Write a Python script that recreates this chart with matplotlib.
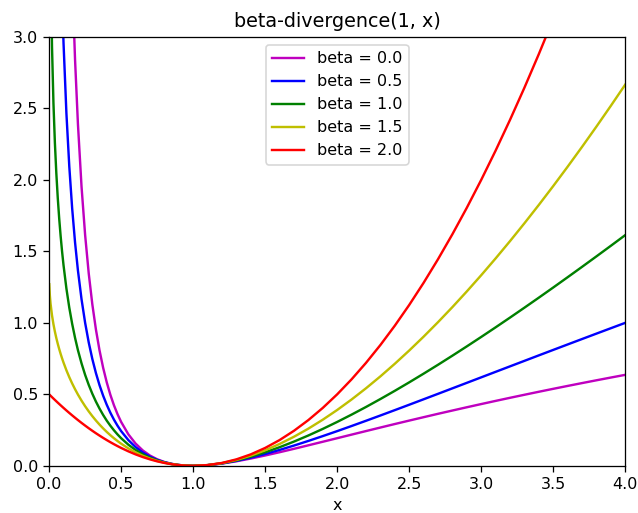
import matplotlib
matplotlib.use('Agg')
import matplotlib.pyplot as plt

# sample points of d_beta(1, x)
x = [0.001, 0.005, 0.01, 0.02, 0.03, 0.04, 0.05, 0.06, 0.07, 0.08, 0.09, 0.1,
     0.12, 0.14, 0.16, 0.18, 0.2, 0.225, 0.25, 0.275, 0.3, 0.325, 0.35, 0.375,
     0.4, 0.425, 0.45, 0.475, 0.5, 0.55, 0.6, 0.65, 0.7, 0.75, 0.8, 0.85, 0.9, 0.95,
     1.0, 1.1, 1.2, 1.3, 1.4, 1.5, 1.6, 1.7, 1.8, 1.9,
     2.0, 2.1, 2.2, 2.3, 2.4, 2.5, 2.6, 2.7, 2.8, 2.9,
     3.0, 3.1, 3.2, 3.3, 3.4, 3.5, 3.6, 3.7, 3.8, 3.9, 4.0]

div_b00 = [992.09, 193.70, 94.39, 45.09, 28.83, 20.78, 16.00, 12.85, 10.63, 8.97, 7.70, 6.70,
           5.21, 4.18, 3.42, 2.84, 2.391, 1.9527, 1.614, 1.3454, 1.129, 0.9530, 0.807, 0.6859,
           0.584, 0.4972, 0.4237, 0.3609, 0.3069, 0.2204, 0.1559, 0.1077, 0.0719, 0.0456, 0.0269, 0.0140, 0.0057, 0.0013,
           0.0, 0.0044, 0.0156, 0.0316, 0.0508, 0.0722, 0.0950, 0.1188, 0.1434, 0.1682,
           0.1931, 0.2181, 0.2430, 0.2677, 0.2922, 0.3163, 0.3401, 0.3637, 0.3867, 0.4095,
           0.4319, 0.4540, 0.4757, 0.4969, 0.5179, 0.5385, 0.5587, 0.5786, 0.5982, 0.6174, 0.6363]

div_b05 = [59.31, 24.43, 16.2, 10.42, 7.89, 6.4, 5.39, 4.65, 4.09, 3.64, 3.27, 2.957,
           2.466, 2.094, 1.8, 1.5625, 1.3666, 1.1651, 1.0, 0.8627, 0.7469, 0.6484, 0.5638, 0.4907,
           0.4272, 0.3717, 0.3230, 0.2803, 0.2426, 0.1800, 0.1312, 0.0932, 0.0638, 0.0415, 0.0250, 0.0132, 0.0056, 0.0014,
           0.0, 0.0045, 0.0166, 0.0345, 0.0567, 0.0825, 0.1110, 0.1416, 0.1740, 0.2078,
           0.2426, 0.2784, 0.3149, 0.3519, 0.3894, 0.4272, 0.4653, 0.5035, 0.5419, 0.5803,
           0.6188, 0.6573, 0.6957, 0.7341, 0.7725, 0.8107, 0.8488, 0.8868, 0.9247, 0.9624, 1.0]

div_b10 = [5.909, 4.303, 3.615, 2.932, 2.537, 2.259, 2.046, 1.873, 1.729, 1.606, 1.498, 1.403,
           1.240, 1.106, 0.993, 0.895, 0.809, 0.7167, 0.636, 0.5660, 0.504, 0.4489, 0.400, 0.3558,
           0.316, 0.2807, 0.2485, 0.2194, 0.1931, 0.1478, 0.1108, 0.0808, 0.0567, 0.0377, 0.0231, 0.0125, 0.0054, 0.0013,
           0.0, 0.0047, 0.0177, 0.0376, 0.0635, 0.0945, 0.1300, 0.1694, 0.2122, 0.2581,
           0.3069, 0.3581, 0.4115, 0.4671, 0.5245, 0.5837, 0.6445, 0.7067, 0.7704, 0.8353,
           0.9014, 0.9686, 1.0368, 1.1061, 1.1762, 1.2472, 1.3191, 1.3917, 1.4650, 1.5390, 1.6137]

div_b15 = [1.2701, 1.1921, 1.1340, 1.0524, 0.9904, 0.9387, 0.8936, 0.8532, 0.8165, 0.7827, 0.7513, 0.7220,
           0.6682, 0.6199, 0.5760, 0.5357, 0.4985, 0.4558, 0.4167, 0.3807, 0.3474, 0.3167, 0.2882, 0.2617,
           0.2371, 0.2142, 0.1929, 0.1732, 0.1548, 0.1220, 0.0940, 0.0702, 0.0505, 0.0343, 0.0215, 0.0119, 0.0052, 0.0013,
           0.0, 0.0048, 0.0188, 0.0411, 0.0712, 0.1086, 0.1527, 0.2033, 0.2600, 0.3225,
           0.3905, 0.4639, 0.5423, 0.6256, 0.7137, 0.8063, 0.9033, 1.0047, 1.1102, 1.2198,
           1.3333, 1.4507, 1.5718, 1.6966, 1.8250, 1.9569, 2.0923, 2.2310, 2.3730, 2.5182, 2.6667]

div_b20 = [0.4990, 0.4950, 0.4901, 0.4802, 0.4705, 0.4608, 0.4513, 0.4418, 0.4325, 0.4232, 0.4141, 0.405,
           0.3872, 0.3698, 0.3528, 0.3362, 0.32, 0.30031, 0.28125, 0.26281, 0.245, 0.22781, 0.21125, 0.19531,
           0.18, 0.16531, 0.15125, 0.13781, 0.125, 0.10125, 0.08, 0.06125, 0.045, 0.03125, 0.02, 0.01125, 0.005, 0.00125,
           0.0, 0.005, 0.02, 0.045, 0.08, 0.125, 0.18, 0.245, 0.32, 0.405,
           0.5, 0.605, 0.72, 0.845, 0.98, 1.125, 1.28, 1.445, 1.62, 1.805,
           2.0, 2.205, 2.42, 2.645, 2.88, 3.125, 3.38, 3.645, 3.92, 4.205, 4.5]

betas = [0.0, 0.5, 1.0, 1.5, 2.0]
curves = [div_b00, div_b05, div_b10, div_b15, div_b20]
colors = ['m', 'b', 'g', 'y', 'r']

dpi = 115
fig = plt.figure(figsize=(638 / dpi, 513 / dpi), dpi=dpi)
fig.subplots_adjust(left=0.077, right=0.98, top=0.928, bottom=0.092)
ax = fig.add_subplot(111)

for beta, y, c in zip(betas, curves, colors):
    ax.plot(x, y, label="beta = %1.1f" % beta, color=c)

ax.set_title("beta-divergence(1, x)")
ax.set_xlabel("x")
ax.legend(loc=0)
ax.axis([0, 4, 0, 3])

fig.savefig('out.png', dpi=dpi)
